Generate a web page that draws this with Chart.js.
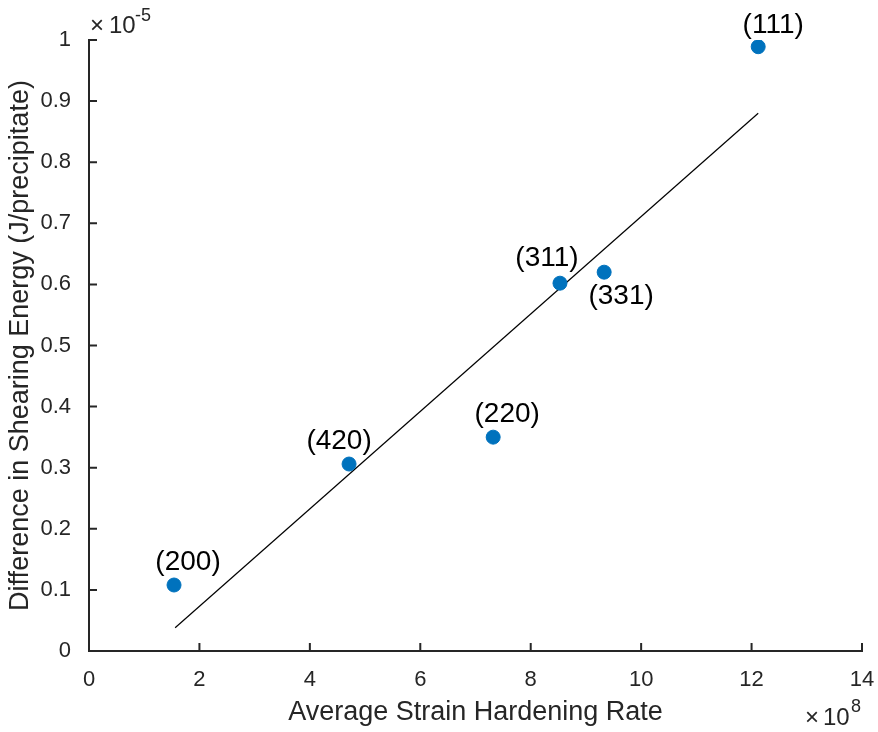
<!DOCTYPE html>
<html>
<head>
<meta charset="utf-8">
<script src="https://cdn.jsdelivr.net/npm/chart.js@4.4.1/dist/chart.umd.min.js"></script>
<style>
  html, body { margin: 0; padding: 0; background: #fff; }
  #wrap { width: 878px; height: 732px; }
</style>
</head>
<body>
<div id="wrap"><canvas id="scatterChart" width="878" height="732"></canvas></div>
<script>
// dati (x in 1e8, y in 1e-5)
var planes = ["(200)", "(420)", "(220)", "(311)", "(331)", "(111)"];
var rateX = [1.54, 4.71, 7.32, 8.53, 9.33, 12.12];
var energyY = [0.108, 0.306, 0.350, 0.602, 0.620, 0.989];
// retta di fit (estremi)
var fitX = [1.56, 12.12];
var fitY = [0.038, 0.880];
var xTicks = [0, 2, 4, 6, 8, 10, 12, 14];
var yTicks = [0, 0.1, 0.2, 0.3, 0.4, 0.5, 0.6, 0.7, 0.8, 0.9, 1];

var axisColor = "#262626";
var fontFam = "'Liberation Sans', Arial, Helvetica, sans-serif";

// spostamento etichette rispetto al punto (px)
var labelShift = {
  "(200)": [14, -23], "(420)": [-10, -23], "(220)": [14, -23],
  "(311)": [-13, -25], "(331)": [17, 24], "(111)": [15, -21]
};

var points = rateX.map(function(x, i) { return { x: x, y: energyY[i] }; });
var fitLine = fitX.map(function(x, i) { return { x: x, y: fitY[i] }; });

// tacche verso l'interno + etichette + esponenti
var extras = {
  id: "extras",
  afterDatasetsDraw: function(chart) {
    var ctx = chart.ctx;
    var xs = chart.scales.x, ys = chart.scales.y;
    var a = chart.chartArea;
    ctx.save();
    ctx.strokeStyle = axisColor;
    ctx.lineWidth = 2;
    ctx.beginPath();
    xTicks.forEach(function(v) {
      var px = xs.getPixelForValue(v);
      ctx.moveTo(px, a.bottom);
      ctx.lineTo(px, a.bottom - 8);
    });
    yTicks.forEach(function(v) {
      var py = ys.getPixelForValue(v);
      ctx.moveTo(a.left, py);
      ctx.lineTo(a.left + 8, py);
    });
    ctx.stroke();

    // etichette dei piani
    ctx.fillStyle = "#000";
    ctx.font = "28px " + fontFam;
    ctx.textAlign = "center";
    ctx.textBaseline = "middle";
    var meta = chart.getDatasetMeta(0);
    meta.data.forEach(function(el, i) {
      var s = labelShift[planes[i]];
      ctx.fillText(planes[i], el.x + s[0], el.y + s[1]);
    });

    // esponenti
    ctx.fillStyle = axisColor;
    ctx.textAlign = "left";
    ctx.textBaseline = "alphabetic";
    ctx.font = "24px " + fontFam;
    ctx.fillText("\u00d7", a.left + 1, a.top - 7);
    ctx.fillText("10", a.left + 20, a.top - 7);
    ctx.font = "18px " + fontFam;
    ctx.fillText("-5", a.left + 46, a.top - 19);
    ctx.font = "24px " + fontFam;
    ctx.fillText("\u00d7", a.right - 57, a.bottom + 74);
    ctx.fillText("10", a.right - 39, a.bottom + 74);
    ctx.font = "18px " + fontFam;
    ctx.fillText("8", a.right - 11, a.bottom + 61);
    ctx.restore();
  }
};

var ctx = document.getElementById("scatterChart").getContext("2d");
new Chart(ctx, {
  type: "scatter",
  data: {
    datasets: [{
      label: "dati",
      data: points,
      backgroundColor: "#0072BD",
      borderColor: "#0072BD",
      pointRadius: 7,
      pointHoverRadius: 7
    }, {
      label: "fit",
      type: "line",
      data: fitLine,
      showLine: true,
      borderColor: "#000",
      borderWidth: 1.2,
      pointRadius: 0,
      fill: false
    }]
  },
  options: {
    responsive: false,
    animation: false,
    events: [],
    layout: { padding: { left: 0, top: 40, right: 16, bottom: 0 } },
    plugins: { legend: { display: false }, tooltip: { enabled: false } },
    scales: {
      x: {
        type: "linear",
        min: 0, max: 14,
        afterFit: function(s) { s.height = 81; s.paddingRight = 0; s.paddingLeft = 0; },
        afterBuildTicks: function(s) { s.ticks = xTicks.map(function(v) { return { value: v }; }); },
        grid: { display: false },
        border: { display: true, color: axisColor, width: 2 },
        ticks: { color: axisColor, font: { size: 22, family: fontFam }, padding: 8, maxRotation: 0 },
        title: { display: true, text: "Average Strain Hardening Rate", color: axisColor,
                 font: { size: 27, family: fontFam }, padding: { top: 0, bottom: 3 } }
      },
      y: {
        type: "linear",
        min: 0, max: 1,
        afterFit: function(s) { s.width = 89; s.paddingTop = 0; s.paddingBottom = 0; },
        afterBuildTicks: function(s) { s.ticks = yTicks.map(function(v) { return { value: v }; }); },
        grid: { display: false },
        border: { display: true, color: axisColor, width: 2 },
        ticks: { color: axisColor, font: { size: 22, family: fontFam }, padding: 10,
                 callback: function(v) { return String(Math.round(v * 10) / 10); } },
        title: { display: true, text: "Difference in Shearing Energy (J/precipitate)", color: axisColor,
                 font: { size: 27, family: fontFam }, padding: { top: 4, bottom: 0 } }
      }
    }
  },
  plugins: [extras]
});
</script>
</body>
</html>
